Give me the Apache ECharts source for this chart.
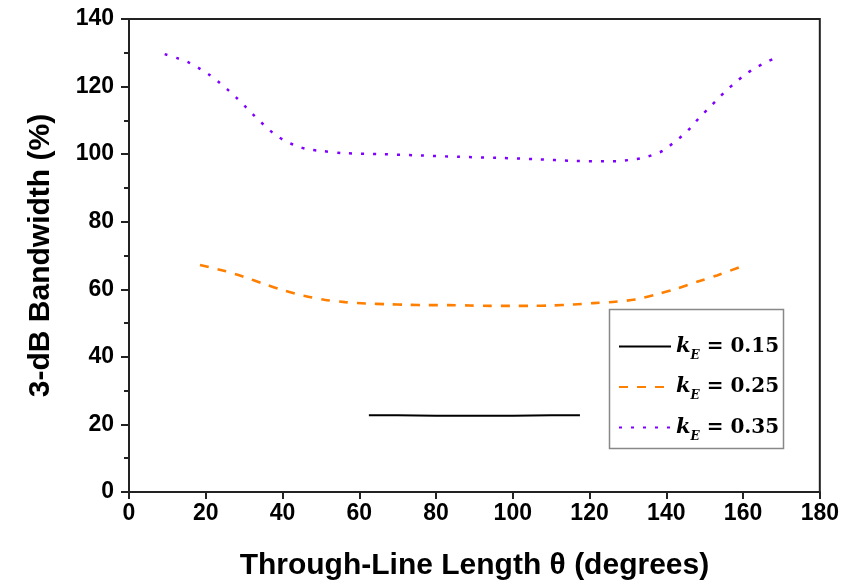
<!DOCTYPE html>
<html>
<head>
<meta charset="utf-8">
<script src="https://cdn.jsdelivr.net/npm/echarts@6/dist/echarts.min.js"></script>
<style>
  html, body { margin: 0; padding: 0; background: #fff; }
  #chart { width: 842px; height: 586px; }
</style>
</head>
<body>
<div id="chart"></div>
<script>
// Series data (theta in degrees, bandwidth in %)
const x15 = [62.5, 70, 80, 90, 100, 110, 117.5];
const y15 = [22.7, 22.7, 22.6, 22.55, 22.6, 22.7, 22.7];

const x25 = [18.5, 25.0, 29.9, 35.1, 40.3, 45.6, 50.9, 56.3, 61.7, 67.1, 72.7, 78.0, 83.2, 88.8,
             94.1, 99.3, 104.7, 110.1, 115.8, 121.0, 126.7, 131.9, 137.5, 142.7, 148.0, 153.2, 159.0];
const y25 = [67.2, 65.4, 63.7, 61.6, 59.7, 58.1, 56.9, 56.2, 55.8, 55.6, 55.4, 55.3, 55.3, 55.2,
             55.1, 55.1, 55.1, 55.2, 55.5, 55.9, 56.3, 57.0, 58.5, 60.2, 62.2, 64.1, 66.5];

const x35 = [9.3, 12.6, 15.6, 18.3, 20.8, 23.3, 25.7, 28.1, 30.4, 32.7, 35.1, 37.6, 40.2, 43.2, 46.4,
             49.7, 56, 66, 76, 86, 96, 106, 116, 124, 127.2, 130.5, 133.5, 136.5, 139.3, 141.9,
             144.2, 146.5, 148.6, 150.9, 153.2, 155.6, 158.1, 160.6, 163.5, 166.4, 169.5];
const y35 = [129.6, 128.4, 127.1, 125.4, 123.6, 121.4, 119.1, 116.6, 114.0, 111.3, 108.7, 106.2, 104.2,
             102.6, 101.5, 101.0, 100.3, 100.0, 99.6, 99.2, 98.9, 98.5, 98.0, 97.9, 97.9, 98.3, 98.8,
             99.8, 101.1, 103.4, 105.5, 108.0, 110.8, 113.4, 116.1, 118.8, 121.3, 123.6, 125.7, 127.4, 129.1];

const seriesNames = ['0.15', '0.25', '0.35'];

function pairs(xs, ys) {
    return xs.map((x, i) => [x, ys[i]]);
}

const chart = echarts.init(document.getElementById('chart'));

const axisFont = { fontFamily: 'Liberation Sans, Arial, sans-serif', fontWeight: 'bold', color: '#000' };
const serif = 'DejaVu Serif, serif';

chart.setOption({
    animation: false,
    backgroundColor: '#fff',
    grid: {
        left: 129, right: 22, top: 19, bottom: 93,
        show: true, borderColor: '#222', borderWidth: 2
    },
    xAxis: {
        type: 'value', min: 0, max: 180, interval: 20,
        name: 'Through-Line Length θ (degrees)',
        nameLocation: 'middle', nameGap: 59,
        nameTextStyle: { ...axisFont, fontSize: 30 },
        axisLine: { show: true, lineStyle: { color: '#222', width: 2 } },
        axisTick: { show: true, inside: false, length: 7, lineStyle: { color: '#222', width: 2 } },
        axisLabel: { ...axisFont, fontSize: 23, margin: 10 },
        splitLine: { show: false }
    },
    yAxis: {
        type: 'value', min: 0, max: 140, interval: 20,
        name: '3-dB Bandwidth (%)',
        nameLocation: 'middle', nameGap: 73,
        nameTextStyle: { ...axisFont, fontSize: 30 },
        axisLine: { show: true, lineStyle: { color: '#222', width: 2 } },
        axisTick: { show: true, inside: false, length: 8, lineStyle: { color: '#222', width: 2 } },
        minorTick: { show: true, splitNumber: 2, length: 5, lineStyle: { color: '#222', width: 2 } },
        axisLabel: { ...axisFont, fontSize: 23, margin: 15 },
        splitLine: { show: false }
    },
    legend: {
        orient: 'vertical',
        left: 618, top: 336,
        itemWidth: 52, itemHeight: 16, itemGap: 15,
        padding: 0,
        itemStyle: { opacity: 0 },
        data: seriesNames,
        formatter: name => '{k|k}{s|E}{v| = ' + name + '}',
        textStyle: {
            color: '#000',
            rich: {
                k: { fontFamily: serif, fontStyle: 'italic', fontWeight: 'bold', fontSize: 21, color: '#000' },
                s: { fontFamily: serif, fontStyle: 'italic', fontWeight: 'bold', fontSize: 12, color: '#000', padding: [18, 0, 0, 0] },
                v: { fontFamily: serif, fontWeight: 'bold', fontSize: 20, color: '#000' }
            }
        }
    },
    graphic: [{
        type: 'rect', left: 607, top: 307, z: 0,
        shape: { width: 174, height: 139 },
        style: { fill: 'none', stroke: '#888', lineWidth: 1.5 }
    }],
    series: [
        {
            name: seriesNames[0], type: 'line', showSymbol: false, symbol: 'none',
            data: pairs(x15, y15),
            lineStyle: { color: '#000', width: 2 }, itemStyle: { color: '#000' }
        },
        {
            name: seriesNames[1], type: 'line', showSymbol: false, symbol: 'none', smooth: 0.3,
            data: pairs(x25, y25),
            lineStyle: { color: '#ff8000', width: 2.6, type: [9, 9] }, itemStyle: { color: '#ff8000' }
        },
        {
            name: seriesNames[2], type: 'line', showSymbol: false, symbol: 'none', smooth: 0.3,
            data: pairs(x35, y35),
            lineStyle: { color: '#8000ff', width: 2.5, type: [3, 9] }, itemStyle: { color: '#8000ff' }
        }
    ]
});
</script>
</body>
</html>
